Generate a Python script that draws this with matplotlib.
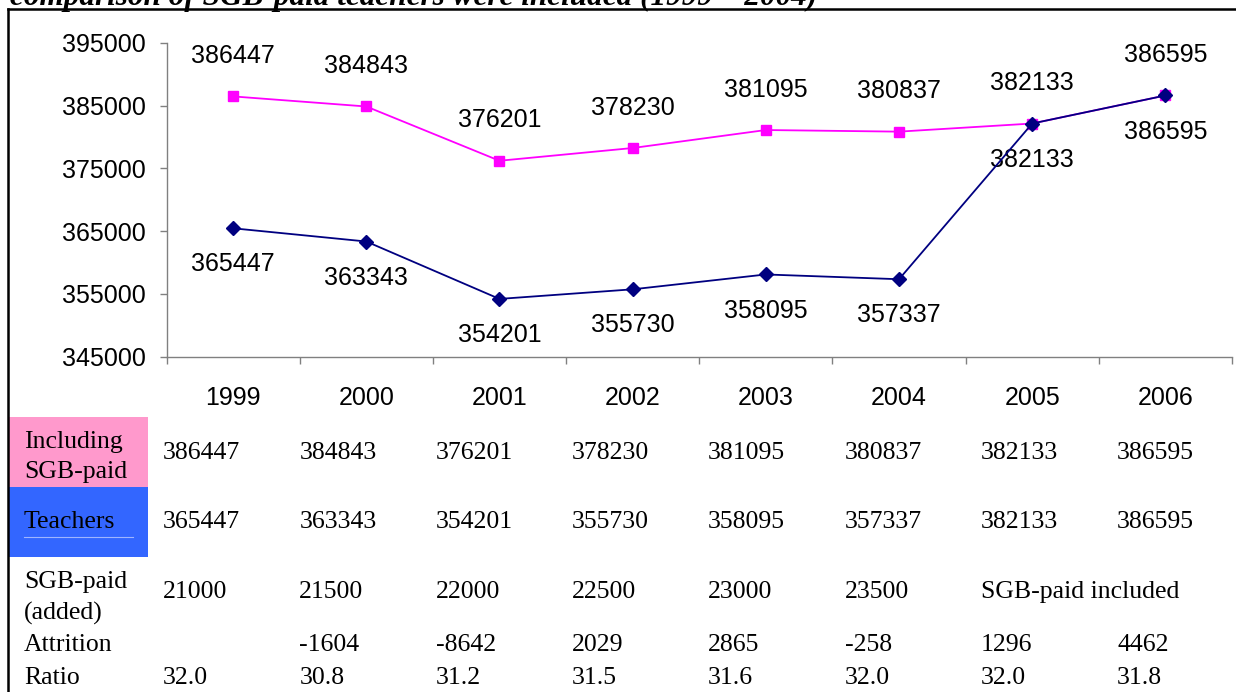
import matplotlib
matplotlib.use("Agg")
import matplotlib.pyplot as plt
from matplotlib.lines import Line2D
from matplotlib.patches import Rectangle

# ---- data ----
years = ["1999", "2000", "2001", "2002", "2003", "2004", "2005", "2006"]
including_sgb = [386447, 384843, 376201, 378230, 381095, 380837, 382133, 386595]
teachers = [365447, 363343, 354201, 355730, 358095, 357337, 382133, 386595]
sgb_added = ["21000", "21500", "22000", "22500", "23000", "23500", "SGB-paid included", ""]
attrition = ["", "-1604", "-8642", "2029", "2865", "-258", "1296", "4462"]
ratio = ["32.0", "30.8", "31.2", "31.5", "31.6", "32.0", "32.0", "31.8"]
y_ticks = [345000, 355000, 365000, 375000, 385000, 395000]
title = "comparison of SGB-paid teachers were included (1999 \u2013 2004)"

W, H = 1236, 692
fig = plt.figure(figsize=(W / 100, H / 100), dpi=100)


def fx(x):
    return x / W


def fy(y):
    return 1 - y / H


SANS = "Liberation Sans"
SERIF = "Liberation Serif"

# ---- chart axes ----
ax_l, ax_r, ax_t, ax_b = 166.5, 1232, 42.7, 356.7
ax = fig.add_axes([fx(ax_l), fy(ax_b), fx(ax_r) - fx(ax_l), fy(ax_t) - fy(ax_b)])
xs = list(range(len(years)))

ax.plot(xs, including_sgb, color="#FF00FF", lw=1.3, marker="s", ms=7.5,
        mec="#FF00FF", mfc="#FF00FF", zorder=3)
ax.plot(xs, teachers, color="#000080", lw=1.3, marker="D", ms=7,
        mec="#000080", mfc="#000080", zorder=4)

for x, v in zip(xs, including_sgb):
    ax.annotate(str(v), (x, v), xytext=(0, 29), textcoords="offset points",
                ha="center", va="center", fontsize=18, family=SANS)
for x, v in zip(xs, teachers):
    ax.annotate(str(v), (x, v), xytext=(0, -26), textcoords="offset points",
                ha="center", va="center", fontsize=18, family=SANS)

ax.set_xlim(-0.5, len(years) - 0.5)
ax.set_ylim(y_ticks[0], y_ticks[-1])
ax.set_yticks(y_ticks)
ax.set_yticklabels([str(t) for t in y_ticks], fontsize=18, family=SANS)
ax.set_xticks(xs)
ax.set_xticklabels(years, fontsize=18, family=SANS)
ax.set_xticks([i - 0.5 for i in range(len(years) + 1)], minor=True)
ax.tick_params(axis="x", which="major", length=0, pad=21)
ax.tick_params(axis="x", which="minor", length=5, direction="out", color="#808080", width=1)
ax.tick_params(axis="y", length=5, direction="out", color="#808080", width=1, pad=10)
for s in ["top", "right"]:
    ax.spines[s].set_visible(False)
for s in ["left", "bottom"]:
    ax.spines[s].set_color("#808080")
    ax.spines[s].set_linewidth(1)

# ---- cut-off title (only its lower edge shows, as in the source page) ----
fig.text(fx(10), fy(5.5), title, fontsize=22.5, family=SERIF, weight="bold",
         style="italic", ha="left", va="baseline", zorder=1)

# ---- frame lines ----
fig.add_artist(Line2D([fx(8), fx(8)], [fy(9), fy(H)], color="black", lw=1.8, zorder=6))
fig.add_artist(Line2D([fx(8), fx(W)], [fy(9), fy(9)], color="black", lw=1.8, zorder=6))
fig.add_artist(Rectangle((0, fy(10)), 1, fy(9) - fy(10), color="white", lw=0, zorder=0))

# ---- table ----
fig.add_artist(Rectangle((fx(8), fy(487)), fx(148) - fx(8), fy(417) - fy(487),
                         color="#FF99CC", lw=0))
fig.add_artist(Rectangle((fx(8), fy(557)), fx(148) - fx(8), fy(487) - fy(557),
                         color="#3366FF", lw=0))
fig.add_artist(Line2D([fx(24), fx(133)], [fy(537), fy(537)], color="#9FB5FF", lw=0.8))

TS = 18.5
lab_x = 24
fig.text(fx(lab_x), fy(442), "Including", fontsize=TS, family=SERIF, va="center")
fig.text(fx(lab_x), fy(472), "SGB-paid", fontsize=TS, family=SERIF, va="center")
fig.text(fx(lab_x), fy(522), "Teachers", fontsize=TS, family=SERIF, va="center")
fig.text(fx(lab_x), fy(582), "SGB-paid", fontsize=TS, family=SERIF, va="center")
fig.text(fx(lab_x), fy(613), "(added)", fontsize=TS, family=SERIF, va="center")
fig.text(fx(lab_x), fy(645), "Attrition", fontsize=TS, family=SERIF, va="center")
fig.text(fx(lab_x), fy(678), "Ratio", fontsize=TS, family=SERIF, va="center")

col_x = [163 + 136.3 * i for i in range(len(years))]
rows = [
    (453, [str(v) for v in including_sgb]),
    (522, [str(v) for v in teachers]),
    (592, sgb_added),
    (645, attrition),
    (678, ratio),
]
for ry, vals in rows:
    for cx, val in zip(col_x, vals):
        if val:
            fig.text(fx(cx), fy(ry), val, fontsize=TS, family=SERIF,
                     ha="left", va="center")

fig.savefig("out.png", dpi=100)
